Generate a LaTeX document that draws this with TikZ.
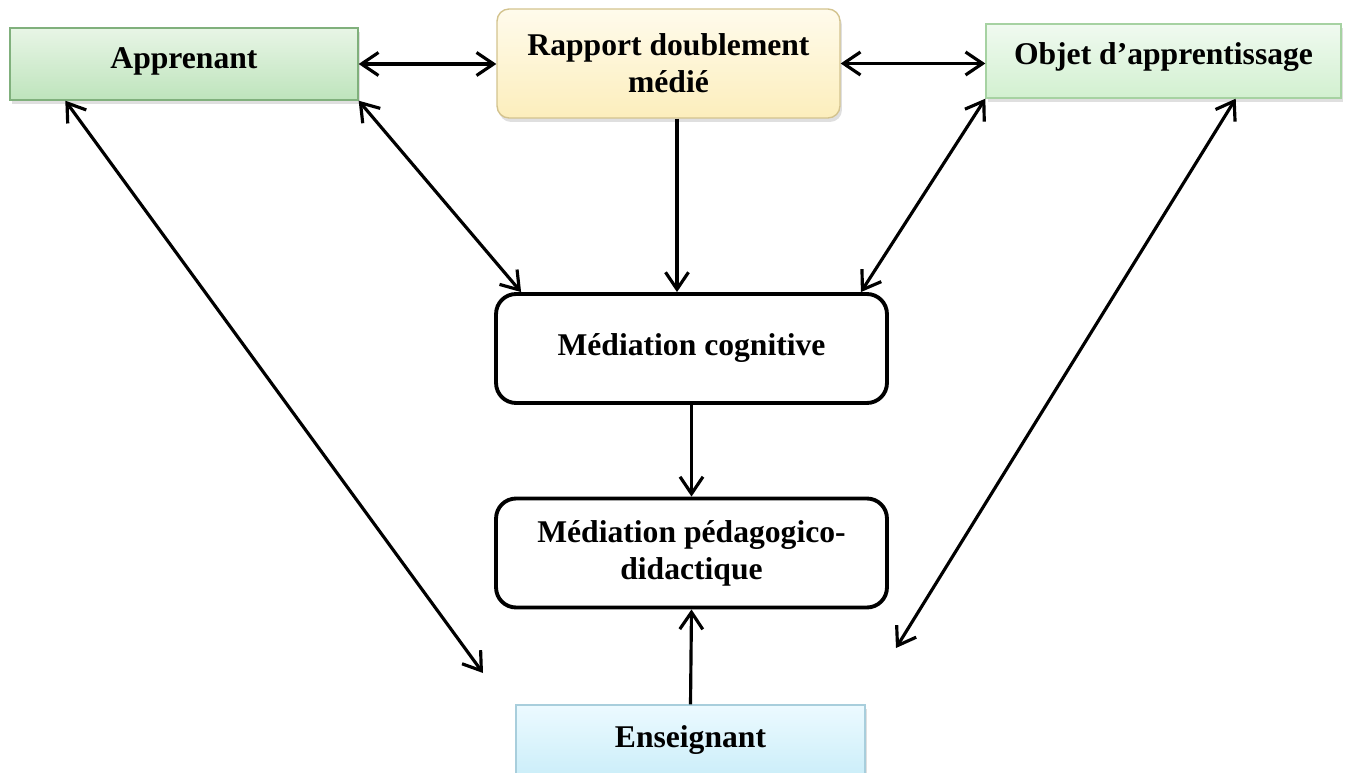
\documentclass[tikz,border=0pt]{standalone}
\usepackage{fontspec}
\setmainfont{Liberation Serif}
\usetikzlibrary{arrows.meta,shadows}

\definecolor{grtop}{RGB}{232,245,230}
\definecolor{grbot}{RGB}{190,228,188}
\definecolor{grline}{RGB}{128,176,124}
\definecolor{ogtop}{RGB}{240,250,240}
\definecolor{ogbot}{RGB}{210,240,208}
\definecolor{ogline}{RGB}{166,210,162}
\definecolor{yetop}{RGB}{255,251,236}
\definecolor{yebot}{RGB}{252,238,188}
\definecolor{yeline}{RGB}{211,195,142}
\definecolor{bltop}{RGB}{236,250,255}
\definecolor{blbot}{RGB}{204,238,249}
\definecolor{blline}{RGB}{168,206,220}

\begin{document}
\begin{tikzpicture}[x=0.02cm, y=-0.02cm,
  box/.style={draw, line width=0.8pt, align=center,
    font=\fontsize{18}{21}\selectfont\bfseries,
    drop shadow={opacity=0.25, shadow xshift=0.04cm, shadow yshift=-0.08cm}},
  medbox/.style={draw, line width=2.2pt, rounded corners=0.4cm, align=center,
    minimum width=7.82cm, minimum height=2.18cm,
    font=\fontsize{18}{21}\selectfont\bfseries},
  link/.style={line width=1.8pt,
    {Straight Barb[length=0.34cm,width=0.46cm]}-{Straight Barb[length=0.34cm,width=0.46cm]}},
  oneway/.style={line width=1.8pt, -{Straight Barb[length=0.34cm,width=0.46cm]}}]
\useasboundingbox (0,0) rectangle (1349,773);

% boxes
\node[box, color=grline, text=black, top color=grtop, bottom color=grbot,
  minimum width=6.96cm, minimum height=1.44cm, text depth=0.22cm] (appr) at (184,64) {Apprenant};
\node[box, color=yeline, text=black, top color=yetop, bottom color=yebot,
  rounded corners=0.24cm, minimum width=6.86cm, minimum height=2.18cm] (rapp) at (668.5,63.5)
  {Rapport doublement\\médié};
\node[box, color=ogline, text=black, top color=ogtop, bottom color=ogbot,
  minimum width=7.1cm, minimum height=1.48cm, text depth=0.3cm] (obj) at (1163.5,61) {Objet d’apprentissage};
\node[medbox] (mc) at (691.5,348.5) {Médiation cognitive};
\node[medbox] (mp) at (691.5,553) {Médiation pédagogico-\\didactique};
\node[box, color=blline, text=black, top color=bltop, bottom color=blbot,
  minimum width=6.98cm, minimum height=1.4cm] (ens) at (690.5,740) {Enseignant};

\coordinate (endL) at (483,673);
\coordinate (endR) at (896,648);

% connectors
\draw[link] (appr.east) -- (appr.east -| rapp.west);
\draw[link] (rapp.east) -- (rapp.east -| obj.west);
\draw[oneway] ([xshift=0.17cm]rapp.south) -- ([xshift=0.17cm]rapp.south |- mc.north);
\draw[link] (appr.south east) -- ([xshift=0.54cm]mc.north west);
\draw[link] (obj.south west) -- ([xshift=-0.56cm]mc.north east);
\draw[link] ([xshift=1.12cm]appr.south west) -- (endL);
\draw[link] ([xshift=-2.12cm]obj.south east) -- (endR);
\draw[oneway] (mc.south) -- (mp.north);
\draw[oneway] (ens.north) -- (mp.south);
\end{tikzpicture}
\end{document}
